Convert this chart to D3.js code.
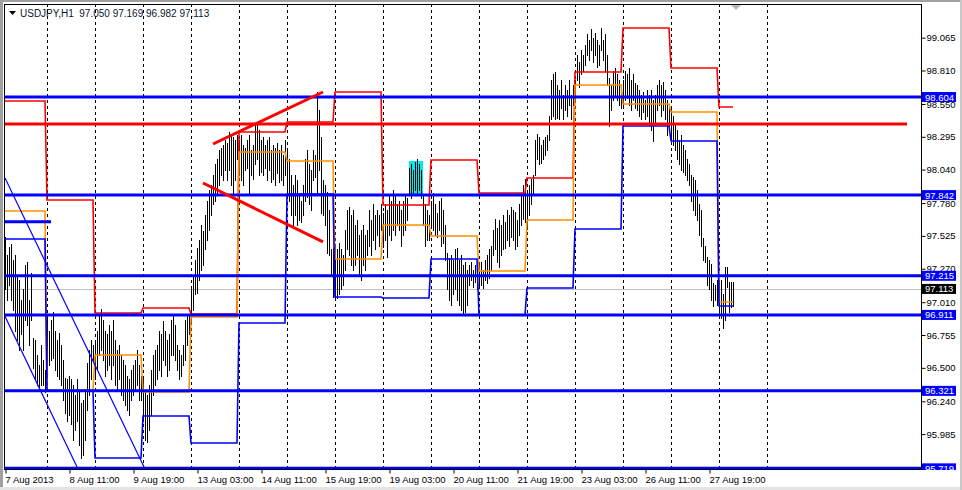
<!DOCTYPE html>
<html><head><meta charset="utf-8">
<script src="https://cdn.jsdelivr.net/npm/d3@7"></script>
<style>
html,body{margin:0;padding:0;background:#fff;}
svg{display:block;font-family:"Liberation Sans",Arial,sans-serif;}
</style></head><body>
<svg id="c" width="962" height="490"></svg>
<script>
// ---------------- DATA ----------------
const titleText = "USDJPY,H1  97.050 97.169 96.982 97.113";
// H1 bars per trading day: 7,8,9,12,13,14,15,16,19,20,21,22,23,26,27,28 Aug
const barsPerDay = [21,24,24,24,24,24,24,24,24,24,24,24,24,24,24,8];
const barHigh = [
 97.52,97.38,97.44,97.46,97.34,97.38,97.22,97.18,97.03,97.11,97.30,97.32,97.03,97.24,96.73,96.72,96.60,96.52,96.68,96.56,96.48,
 96.91,96.79,96.87,96.93,96.79,96.72,96.77,96.68,96.56,96.42,96.41,96.44,96.41,96.37,96.29,96.41,96.33,96.23,96.25,96.33,96.54,96.64,96.72,96.68,
 96.72,96.79,96.91,96.96,96.87,96.79,96.76,96.83,96.79,96.87,96.72,96.64,96.68,96.60,96.56,96.52,96.44,96.41,96.48,96.52,96.56,96.64,96.52,96.44,
 96.41,96.33,96.29,96.37,96.48,96.60,96.64,96.68,96.79,96.76,96.86,96.79,96.72,96.76,96.87,96.92,96.83,96.68,96.64,96.60,96.68,96.87,96.91,96.91,
 97.11,97.22,97.34,97.43,97.49,97.61,97.56,97.69,97.80,97.88,97.92,98.00,98.08,98.12,98.19,98.21,98.23,98.27,98.25,98.33,98.31,98.29,98.27,98.31,
 98.27,98.31,98.23,98.21,98.27,98.31,98.19,98.23,98.39,98.41,98.35,98.27,98.29,98.23,98.27,98.29,98.19,98.23,98.21,98.25,98.19,98.23,98.15,98.27,
 98.19,98.12,98.00,97.92,98.00,97.96,97.84,97.80,97.92,98.12,98.19,98.08,98.04,98.19,98.15,98.64,98.50,98.29,97.96,97.92,97.87,97.73,97.42,97.43,
 97.45,97.42,97.47,97.42,97.38,97.57,97.73,97.75,97.69,97.73,97.61,97.65,97.53,97.57,97.61,97.53,97.57,97.73,97.65,97.77,97.69,97.73,97.69,97.77,
 97.70,97.77,97.73,97.84,97.80,97.88,97.84,97.77,97.80,97.73,97.80,97.84,97.82,98.05,98.08,98.04,98.10,98.12,98.08,98.04,97.84,97.77,97.73,97.69,
 97.80,97.86,97.77,97.70,97.80,97.82,97.73,97.61,97.39,97.35,97.38,97.34,97.42,97.43,97.34,97.38,97.30,97.32,97.26,97.30,97.32,97.26,97.30,97.28,
 97.30,97.32,97.26,97.34,97.38,97.42,97.45,97.57,97.66,97.59,97.65,97.61,97.69,97.63,97.73,97.69,97.75,97.73,97.71,97.65,97.77,97.84,97.92,97.97,
 97.88,97.92,97.97,98.00,98.27,98.32,98.29,98.23,98.27,98.29,98.31,98.46,98.74,98.78,98.80,98.70,98.66,98.74,98.62,98.70,98.66,98.74,98.62,98.70,
 98.74,98.93,98.88,98.97,98.93,99.01,99.09,99.05,99.13,99.06,99.10,99.05,99.01,99.14,99.05,99.09,98.93,98.75,98.70,98.81,98.83,98.78,98.74,98.70,
 98.74,98.81,98.78,98.83,98.74,98.78,98.71,98.70,98.66,98.62,98.64,98.58,98.66,98.62,98.66,98.58,98.62,98.70,98.74,98.70,98.72,98.66,98.58,98.54,
 98.53,98.46,98.39,98.35,98.27,98.31,98.23,98.19,98.12,98.08,98.00,97.98,97.96,97.88,97.77,97.73,97.51,97.45,97.36,97.34,97.31,97.16,97.14,97.18,
 97.18,97.18,97.07,97.28,97.28,97.17,97.17,97.169
];
const barLow = [
 97.11,97.03,97.14,97.03,96.95,96.79,96.72,96.64,96.76,96.64,96.87,96.83,96.68,96.87,96.50,96.41,96.37,96.33,96.37,96.37,96.31,
 96.44,96.52,96.56,96.58,96.48,96.44,96.41,96.37,96.25,96.15,96.09,96.13,96.06,95.94,96.02,96.09,95.90,95.80,95.82,95.94,96.17,96.29,96.41,96.56,
 96.41,96.48,96.60,96.64,96.56,96.44,96.48,96.52,96.41,96.52,96.37,96.33,96.41,96.29,96.25,96.21,96.17,96.13,96.25,96.29,96.33,96.37,96.25,96.25,
 96.09,95.94,95.92,96.02,96.13,96.29,96.37,96.41,96.48,96.44,96.56,96.52,96.44,96.48,96.60,96.60,96.56,96.48,96.41,96.44,96.52,96.56,96.68,96.76,
 96.85,96.95,97.07,97.08,97.18,97.26,97.30,97.42,97.49,97.57,97.69,97.77,97.80,97.84,97.92,98.00,97.96,98.04,97.96,98.04,97.92,97.86,97.96,98.12,
 98.00,97.96,97.92,98.04,98.05,97.85,98.00,97.97,98.08,98.12,98.00,98.02,98.00,98.05,97.96,98.04,97.94,97.97,97.92,98.01,97.94,97.96,97.92,98.00,
 97.88,97.80,97.69,97.61,97.69,97.61,97.65,97.63,97.69,97.80,97.83,97.77,97.73,97.96,97.98,97.86,98.04,97.70,97.69,97.61,97.39,97.38,97.21,97.05,
 97.05,97.04,97.07,97.11,97.14,97.26,97.42,97.38,97.30,97.26,97.30,97.38,97.22,97.18,97.30,97.26,97.38,97.45,97.38,97.49,97.42,97.53,97.45,97.57,
 97.44,97.49,97.36,97.53,97.49,97.57,97.53,97.61,97.57,97.45,97.53,97.57,97.65,97.84,97.82,97.84,97.88,97.84,97.88,97.82,97.61,97.45,97.49,97.49,
 97.61,97.57,97.53,97.52,97.57,97.45,97.47,97.34,97.11,97.03,96.99,97.07,97.11,97.03,96.99,96.95,96.91,96.93,96.99,97.14,97.18,97.13,97.17,97.11,
 97.12,97.14,97.12,97.18,97.16,97.20,97.26,97.38,97.42,97.32,97.28,97.38,97.42,97.43,97.49,97.45,97.52,97.49,97.42,97.45,97.53,97.61,97.66,97.63,
 97.58,97.69,97.77,97.84,98.00,98.12,98.08,98.09,98.12,98.15,98.19,98.27,98.43,98.46,98.43,98.44,98.43,98.52,98.43,98.50,98.46,98.54,98.43,98.54,
 98.58,98.74,98.68,98.78,98.81,98.85,98.93,98.89,98.97,98.88,98.93,98.84,98.85,98.97,98.89,98.81,98.70,98.38,98.50,98.58,98.62,98.58,98.54,98.52,
 98.54,98.58,98.60,98.54,98.50,98.58,98.52,98.50,98.46,98.43,98.49,98.43,98.46,98.39,98.35,98.26,98.39,98.50,98.54,98.46,98.50,98.43,98.31,98.35,
 98.27,98.23,98.19,98.12,98.08,98.04,98.02,98.00,97.96,97.92,97.80,97.73,97.69,97.65,97.53,97.45,97.34,97.32,97.14,97.11,97.03,96.98,97.03,96.99,
 96.91,96.89,96.81,96.87,97.13,96.93,96.97,96.982
];
// previous-day levels, one value per trading day
const prevHigh  = [98.573,97.804,96.926,96.965,96.918,98.332,98.410,98.643,97.765,98.115,97.858,97.975,98.799,99.140,98.830,98.527];
const prevClose = [97.719,96.328,96.600,96.312,96.895,98.177,98.107,97.346,97.610,97.524,97.252,97.649,98.698,98.550,98.488,97.011];
const prevLow   = [97.501,96.320,95.799,96.126,95.916,96.848,97.851,97.050,97.043,97.346,96.910,97.120,97.579,98.379,98.262,96.980];
const priceTicks = [99.065,98.810,98.550,98.295,98.040,97.780,97.525,97.270,97.010,96.755,96.500,96.240,95.985];
const timeLabels = ["7 Aug 2013","8 Aug 11:00","9 Aug 19:00","13 Aug 03:00","14 Aug 11:00","15 Aug 19:00","19 Aug 03:00","20 Aug 11:00","21 Aug 19:00","23 Aug 03:00","26 Aug 11:00","27 Aug 19:00"];
const blueLevels = [98.604, 97.842, 97.215, 96.911, 96.321, 95.719];
const redLevel = 98.394;
const bidPrice = 97.113;
const trendUp   = [[104, 98.239], [159, 98.643]];
const trendDown = [[99, 97.936], [159, 97.478]];
const channelA  = [[0, 97.975], [70, 95.714]];
const channelB  = [[0, 96.900], [36.5, 95.714]];
const shortLevel = [[-0.5, 97.635], [23, 97.635]];
const highlightBox = [[202, 98.107], [209, 97.843]];

// ---------------- LAYOUT ----------------
const L = 4, R = 921, T = 4, B = 469;
const FS = "9.5px";
const svg = d3.select("#c");
const x = d3.scaleLinear().domain([0, 458]).range([5, 921]);
const y = d3.scaleLinear().domain([95.714, 99.319]).range([469, 5]);

// outer decoration
svg.append("rect").attr("x",0).attr("y",0).attr("width",962).attr("height",490).attr("fill","#fff");
svg.append("rect").attr("x",0).attr("y",0).attr("width",962).attr("height",2).attr("fill","#a0a0a0");
svg.append("rect").attr("x",0).attr("y",0).attr("width",3).attr("height",490).attr("fill","#a0a0a0");
svg.append("rect").attr("x",0).attr("y",487).attr("width",962).attr("height",3).attr("fill","#e4e4e4");
svg.append("rect").attr("x",960).attr("y",0).attr("width",2).attr("height",490).attr("fill","#c8c8c8");

svg.append("defs").append("clipPath").attr("id","plot")
  .append("rect").attr("x",L+1).attr("y",T+1).attr("width",R-L-1).attr("height",B-T-1);
svg.append("defs").append("clipPath").attr("id","axisclip")
  .append("rect").attr("x",R).attr("y",T).attr("width",41).attr("height",B-T+1);

const g = svg.append("g").attr("clip-path","url(#plot)");

// day start indices
const dayStart = [];
{ let s = 0; barsPerDay.forEach(n => { dayStart.push(s); s += n; }); }
const nBars = barHigh.length;

// highlight box (behind bars)
g.append("rect")
  .attr("x", x(highlightBox[0][0])).attr("y", y(highlightBox[0][1]))
  .attr("width", x(highlightBox[1][0]) - x(highlightBox[0][0]))
  .attr("height", y(highlightBox[1][1]) - y(highlightBox[0][1]))
  .attr("fill", "#00e8f0");

// period separators
const sepIdx = d3.range(16).map(k => 21 + 24 * k);
g.selectAll("line.sep").data(sepIdx).join("line")
  .attr("x1", d => Math.round(x(d)) + 0.5).attr("x2", d => Math.round(x(d)) + 0.5)
  .attr("y1", T).attr("y2", B)
  .attr("stroke", "#000").attr("stroke-width", 1).attr("stroke-dasharray", "3,3");

// bid line
g.append("line").attr("x1",L).attr("x2",R).attr("y1",Math.round(y(bidPrice))+0.5).attr("y2",Math.round(y(bidPrice))+0.5)
  .attr("stroke","#c0c0c0").attr("stroke-width",1);

// bars
g.selectAll("line.bar").data(d3.range(nBars)).join("line")
  .attr("x1", i => Math.round(x(i)) + 0.5).attr("x2", i => Math.round(x(i)) + 0.5)
  .attr("y1", i => Math.round(y(barHigh[i]))).attr("y2", i => Math.round(y(barLow[i])) + 1)
  .attr("stroke", "#000").attr("stroke-width", 1).attr("shape-rendering","crispEdges");

// step lines for previous-day levels
function stepPoints(vals) {
  const pts = [];
  vals.forEach((v, d) => {
    const s = dayStart[d], e = s + barsPerDay[d] - 1;
    pts.push([s, v]); pts.push([e, v]);
  });
  return pts;
}
const lineGen = d3.line().x(p => x(p[0])).y(p => y(p[1]));
[[prevHigh,"#ff0000"],[prevClose,"#ff9000"],[prevLow,"#0000ff"]].forEach(([vals,col]) => {
  g.append("path").attr("d", lineGen(stepPoints(vals)))
    .attr("fill","none").attr("stroke",col).attr("stroke-width",1.6);
});

// channel lines (thin blue)
[channelA, channelB].forEach(c => {
  g.append("path").attr("d", lineGen(c)).attr("fill","none").attr("stroke","#0000ff").attr("stroke-width",1.2);
});

// horizontal levels
blueLevels.forEach(v => {
  g.append("line").attr("x1",L).attr("x2",R).attr("y1",y(v)).attr("y2",y(v))
    .attr("stroke","#0000ff").attr("stroke-width",3);
});
g.append("line").attr("x1",L).attr("x2",907).attr("y1",y(redLevel)).attr("y2",y(redLevel))
  .attr("stroke","#ff0000").attr("stroke-width",3);
g.append("path").attr("d", lineGen(shortLevel)).attr("stroke","#0000ff").attr("stroke-width",3);

// trend lines
[trendUp, trendDown].forEach(t => {
  g.append("path").attr("d", lineGen(t)).attr("fill","none").attr("stroke","#ff0000").attr("stroke-width",3);
});

// frame
svg.append("rect").attr("x",L+0.5).attr("y",T+0.5).attr("width",R-L).attr("height",B-T)
  .attr("fill","none").attr("stroke","#000").attr("stroke-width",1);

// price axis
const ya = svg.append("g").attr("transform",`translate(${R+0.5},0)`)
  .call(d3.axisRight(y).tickValues(priceTicks).tickSize(4).tickPadding(1).tickFormat(d3.format(".3f")));
ya.select(".domain").remove();
ya.selectAll("text").attr("font-size",FS).attr("fill","#000").attr("font-family","Liberation Sans, Arial, sans-serif");
ya.selectAll("line").attr("stroke","#000");

// level labels on the axis
const lab = svg.append("g").attr("clip-path","url(#axisclip)");
function axisLabel(v, bg, txt) {
  const yy = y(v);
  lab.append("rect").attr("x",R+1).attr("y",yy-5).attr("width",34).attr("height",10).attr("fill",bg);
  lab.append("text").attr("x",R+4).attr("y",yy+3.5).attr("font-size",FS).attr("fill","#fff")
    .text(txt);
}
blueLevels.forEach(v => axisLabel(v, "#0000ff", v.toFixed(3)));
axisLabel(bidPrice, "#000", bidPrice.toFixed(3));

// time axis
const tIdx = timeLabels.map((_, i) => i * 32);
const xa = svg.append("g").attr("transform",`translate(0,${B+0.5})`)
  .call(d3.axisBottom(x).tickValues(tIdx).tickSize(4).tickPadding(3).tickFormat((d,i)=>timeLabels[i]));
xa.select(".domain").remove();
xa.selectAll("line").attr("stroke","#000").attr("transform","translate(0.5,0)");
xa.selectAll("text").attr("text-anchor","start").attr("font-size",FS).attr("fill","#000")
  .attr("font-family","Liberation Sans, Arial, sans-serif");

// title
svg.append("path").attr("d","M9,11 L16,11 L12.5,15 Z").attr("fill","#000");
svg.append("text").attr("x",20).attr("y",17).attr("font-size","10px").attr("fill","#0a1530")
  .attr("xml:space","preserve").style("white-space","pre").text(titleText);

// chart shift marker
svg.append("path").attr("d","M731,5 L741,5 L736,10 Z").attr("fill","#b8b8b8");
</script>
</body></html>
